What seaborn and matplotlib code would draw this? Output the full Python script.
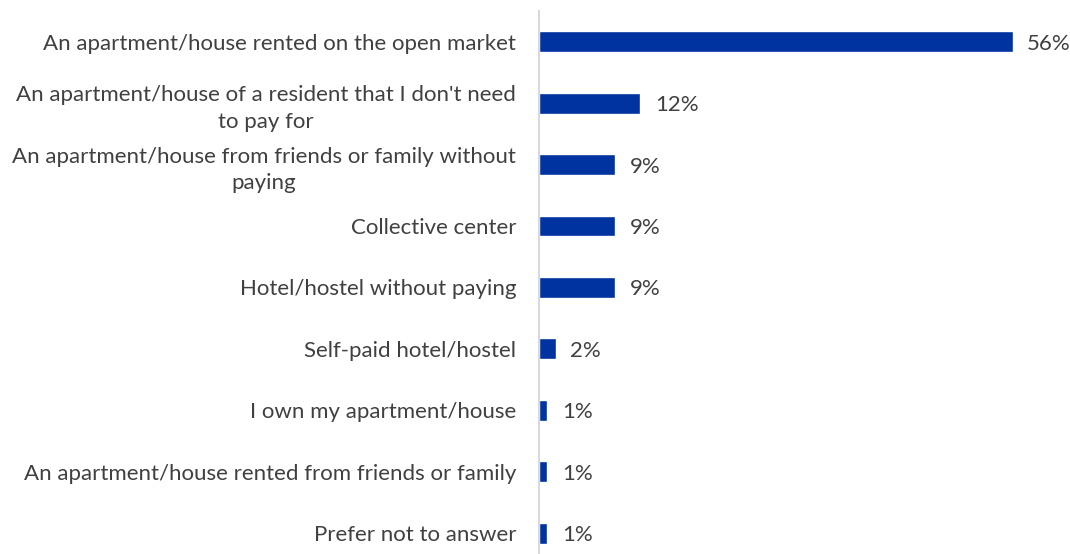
import matplotlib
matplotlib.use("Agg")
import matplotlib.pyplot as plt
import seaborn as sns
import pandas as pd

categories = [
    "An apartment/house rented on the open market",
    "An apartment/house of a resident that I don't need\nto pay for",
    "An apartment/house from friends or family without\npaying",
    "Collective center",
    "Hotel/hostel without paying",
    "Self-paid hotel/hostel",
    "I own my apartment/house",
    "An apartment/house rented from friends or family",
    "Prefer not to answer",
]
values = [56, 12, 9, 9, 9, 2, 1, 1, 1]
value_labels = ["56%", "12%", "9%", "9%", "9%", "2%", "1%", "1%", "1%"]

df = pd.DataFrame({"category": categories, "value": values})

sns.set_theme(style="white")
plt.rcParams["font.family"] = ["Lato", "DejaVu Sans"]

bar_color = "#0033A0"
text_color = "#404040"

fig = plt.figure(figsize=(10.7, 5.54), dpi=100)
ax = fig.add_axes([539 / 1070, 0.0, 1 - 539 / 1070, 1 - 11 / 554])

sns.barplot(data=df, x="value", y="category", color=bar_color, width=0.34,
            saturation=1, ax=ax, orient="h")

ax.set_xlim(0, 62.8)
ax.set_ylim(8.34, -0.5)
ax.set_xlabel("")
ax.set_ylabel("")
ax.set_xticks([])

for sp in ["top", "right", "bottom"]:
    ax.spines[sp].set_visible(False)
ax.spines["left"].set_color("#d9d9d9")
ax.spines["left"].set_linewidth(1.5)

ax.tick_params(axis="y", length=0, pad=16.5, labelsize=16, labelcolor=text_color)
for lbl in ax.get_yticklabels():
    lbl.set_multialignment("center")
    lbl.set_linespacing(1.4)

for i, (v, s) in enumerate(zip(values, value_labels)):
    ax.annotate(s, xy=(v, i), xytext=(10.5, -1.5), textcoords="offset points",
                va="center", ha="left", fontsize=16, color=text_color)

fig.savefig("out.png", dpi=100)
